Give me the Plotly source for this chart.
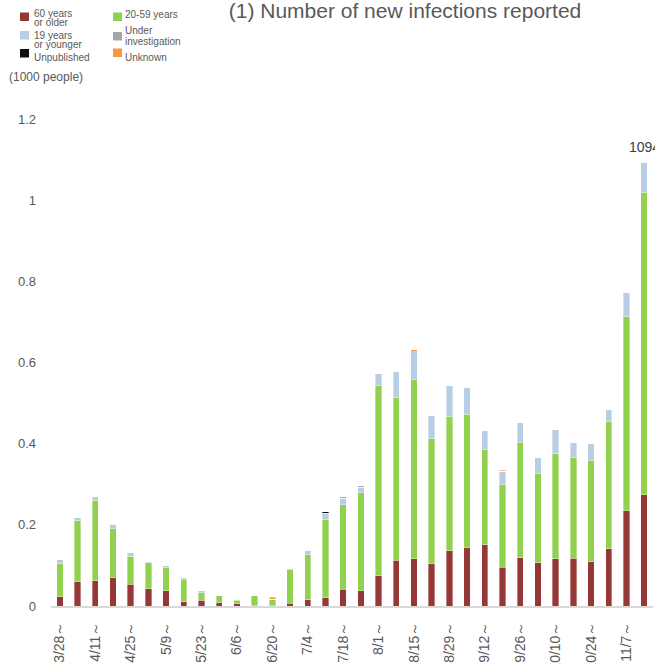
import plotly.graph_objects as go

### weekly data (1000 people), week starting
weeks = ["3/28～", "4/4～", "4/11～", "4/18～", "4/25～", "5/2～", "5/9～", "5/16～", "5/23～", "5/30～",
         "6/6～", "6/13～", "6/20～", "6/27～", "7/4～", "7/11～", "7/18～", "7/25～", "8/1～", "8/8～",
         "8/15～", "8/22～", "8/29～", "9/5～", "9/12～", "9/19～", "9/26～", "10/3～", "10/10～", "10/17～",
         "10/24～", "10/31～", "11/7～", "11/14～"]
tick_weeks = ["3/28～", "4/11～", "4/25～", "5/9～", "5/23～", "6/6～", "6/20～", "7/4～", "7/18～",
              "8/1～", "8/15～", "8/29～", "9/12～", "9/26～", "10/10～", "10/24～", "11/7～"]

age_60_plus = [0.023, 0.060, 0.062, 0.070, 0.054, 0.043, 0.037, 0.011, 0.014, 0.008,
               0.006, 0.001, 0.001, 0.007, 0.015, 0.020, 0.041, 0.037, 0.075, 0.113,
               0.116, 0.104, 0.136, 0.144, 0.151, 0.096, 0.119, 0.106, 0.117, 0.118,
               0.109, 0.141, 0.235, 0.274]
age_20_59 = [0.082, 0.150, 0.199, 0.120, 0.069, 0.064, 0.057, 0.054, 0.019, 0.017,
             0.008, 0.024, 0.015, 0.082, 0.111, 0.192, 0.208, 0.242, 0.469, 0.401,
             0.442, 0.308, 0.331, 0.328, 0.235, 0.203, 0.284, 0.220, 0.259, 0.249,
             0.249, 0.313, 0.478, 0.745]
age_19_under = [0.007, 0.009, 0.010, 0.010, 0.006, 0.002, 0.006, 0.005, 0.004, 0.002,
                0.002, 0.002, 0.001, 0.004, 0.012, 0.017, 0.017, 0.014, 0.028, 0.065,
                0.069, 0.058, 0.076, 0.066, 0.046, 0.033, 0.048, 0.041, 0.058, 0.035,
                0.042, 0.031, 0.056, 0.075]
unpublished = [0, 0, 0, 0, 0, 0, 0, 0, 0, 0,
               0, 0, 0, 0, 0, 0.003, 0, 0, 0, 0,
               0, 0, 0, 0, 0, 0, 0, 0, 0, 0,
               0, 0, 0, 0]
under_investigation = [0.002, 0, 0, 0.002, 0.002, 0, 0, 0, 0, 0,
                       0, 0, 0, 0, 0, 0, 0.003, 0.003, 0, 0,
                       0, 0, 0, 0, 0, 0, 0, 0, 0, 0,
                       0, 0, 0, 0]
unknown = [0, 0, 0, 0, 0, 0, 0, 0, 0, 0,
           0, 0, 0.005, 0, 0, 0, 0, 0, 0, 0,
           0.004, 0, 0, 0, 0, 0.002, 0, 0, 0, 0,
           0, 0, 0.003, 0]

series_names = ["60 years<br>or older", "20-59 years", "19 years<br>or younger",
                "Unpublished", "Under<br>investigation", "Unknown"]
series_values = [age_60_plus, age_20_59, age_19_under, unpublished, under_investigation, unknown]
series_colors = ["#953735", "#92D050", "#B9CDE5", "#0D0D0D", "#A6A6A6", "#F79646"]

last_total_label = "1094"

### figure geometry (pixels)
W, H = 655, 664
L, R, T, B = 51, 2, 119, 58

def px(x):
    return (x - L) / (W - L - R)

def py(y):
    return (H - B - y) / (H - T - B)

TEXT = "#595959"
FONT = "Liberation Sans, Arial, sans-serif"

fig = go.Figure()
for name, vals, col in zip(series_names, series_values, series_colors):
    fig.add_trace(go.Bar(
        x=weeks, y=vals, name=name.replace("<br>", " "),
        marker=dict(color=col, line=dict(color="rgba(255,255,255,0.6)", width=0.6)),
        showlegend=False,
    ))

### total label on the last bar
last_total = sum(v[-1] for v in series_values)
fig.add_annotation(x=weeks[-1], y=last_total, text=last_total_label, showarrow=False,
                   xanchor="center", yanchor="bottom", yshift=5,
                   font=dict(size=14, color="#404040", family=FONT))

### hand-made legend (two columns, like the original)
legend_pos = [
    # square x, square top y, text x, line centres
    (20, 12.5, 32, [14, 23]),
    (113, 12.5, 123, [14.5]),
    (20, 31, 32, [35, 44.5]),
    (20, 49, 32, [57.5]),
    (113, 32, 123, [30.5, 42]),
    (113, 48.5, 123, [57]),
]
for name, col, (sx, sy, tx, lines) in zip(series_names, series_colors, legend_pos):
    fig.add_shape(type="rect", xref="paper", yref="paper",
                  x0=px(sx), x1=px(sx + 9), y0=py(sy), y1=py(sy + 8.5),
                  fillcolor=col, line=dict(width=0))
    for txt, ly in zip(name.split("<br>"), lines):
        fig.add_annotation(xref="paper", yref="paper", x=px(tx), y=py(ly), text=txt,
                           showarrow=False, xanchor="left", yanchor="middle",
                           font=dict(size=10, color=TEXT, family=FONT))

### unit label
fig.add_annotation(xref="paper", yref="paper", x=px(7), y=py(77), text="(1000 people)",
                   showarrow=False, xanchor="left", yanchor="middle",
                   font=dict(size=12, color=TEXT, family=FONT))

fig.update_layout(
    width=W, height=H,
    margin=dict(l=L, r=R, t=T, b=B, autoexpand=False),
    barmode="stack", bargap=0.64,
    plot_bgcolor="white", paper_bgcolor="white",
    showlegend=False,
    font=dict(family=FONT, color=TEXT),
    title=dict(text="(1) Number of new infections reported", xref="container", yref="container",
               x=405 / W, y=1 - 11 / H, xanchor="center", yanchor="middle",
               font=dict(size=21, color=TEXT, family=FONT)),
)
# fixed range: otherwise the "1094" label widens the category axis
fig.update_xaxes(type="category", range=[-0.5, len(weeks) - 0.5],
                 tickmode="array", tickvals=tick_weeks, ticktext=tick_weeks,
                 tickangle=-90, tickfont=dict(size=14, color=TEXT), ticks="",
                 ticklabelstandoff=8, showline=True, linecolor="#D9D9D9", linewidth=2,
                 showgrid=False, automargin=False)
fig.update_yaxes(range=[0, 1.2], tickmode="array",
                 tickvals=[0, 0.2, 0.4, 0.6, 0.8, 1.0, 1.2],
                 ticktext=["0", "0.2", "0.4", "0.6", "0.8", "1", "1.2"],
                 tickfont=dict(size=13, color=TEXT), ticks="", ticklabelstandoff=14,
                 showgrid=False, zeroline=False, showline=False, automargin=False)

# drop the default page margin so the figure sits at the window's top-left corner
fig.write_html("out.html", config={"displayModeBar": False},
               post_script="document.body.style.margin='0';")
